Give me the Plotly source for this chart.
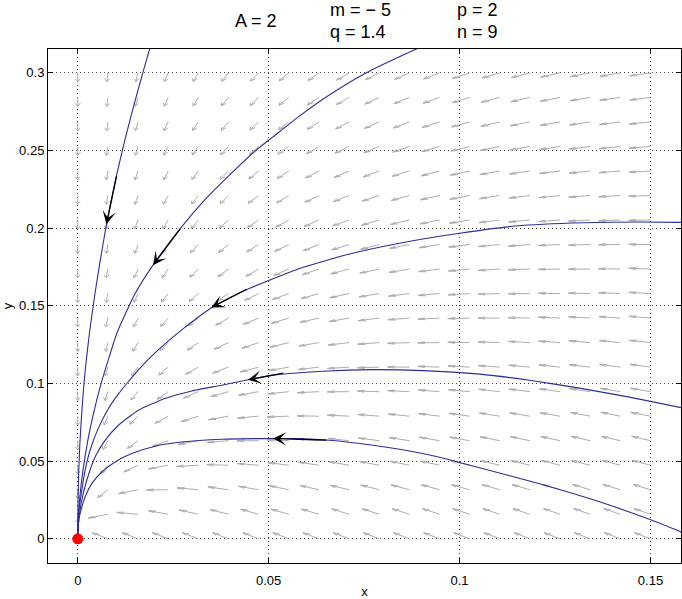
import numpy as np
import plotly.graph_objects as go

# quiver grid
x_grid = np.linspace(0, 0.15, 20)
y_grid = np.linspace(0, 0.3, 20)

# direction of the grey field arrows (degrees, data space), one row per y_grid value
field_angle = [
    [None, 137, 137, 137, 137, 137, 137, 137, 137, 137, 137, 137, 137, 137, 137, 137, 137, 137, 137, 137],
    [-90, -154, 168, 156, 151, 148, 146, 145, 144, 143, 142, 142, 141, 141, 141, 141, 140, 140, 140, 140],
    [-90, -118, -154, -179, 168, 161, 157, 153, 151, 150, 148, 147, 146, 146, 145, 145, 144, 144, 144, 143],
    [-90, -108, -131, -155, -172, 176, 169, 163, 160, 157, 155, 153, 152, 151, 150, 149, 148, 148, 147, 147],
    [-90, -103, -119, -138, -155, -169, -179, 174, 169, 165, 162, 159, 157, 156, 154, 153, 152, 151, 151, 150],
    [-90, -100, -113, -127, -142, -156, -167, -175, 178, 173, 169, 166, 163, 161, 159, 158, 157, 155, 154, 154],
    [-90, -98, -109, -120, -133, -145, -156, -165, -173, -179, 176, 173, 169, 167, 164, 163, 161, 160, 158, 157],
    [-90, -97, -106, -116, -126, -137, -147, -157, -164, -171, -176, 179, 175, 172, 170, 167, 165, 164, 162, 161],
    [-90, -96, -104, -112, -121, -131, -140, -149, -157, -164, -170, -175, -179, 178, 175, 172, 170, 168, 166, 165],
    [-90, -96, -102, -110, -118, -126, -135, -143, -151, -157, -163, -169, -173, -177, 180, 177, 174, 172, 170, 168],
    [-90, -95, -101, -108, -115, -122, -130, -138, -145, -152, -158, -163, -168, -172, -176, -179, 178, 176, 174, 172],
    [-90, -95, -100, -106, -113, -119, -126, -134, -140, -147, -153, -158, -163, -167, -171, -175, -178, 180, 178, 175],
    [-90, -94, -99, -105, -111, -117, -123, -130, -136, -143, -148, -154, -159, -163, -167, -170, -174, -176, -179, 179],
    [-90, -94, -99, -104, -109, -115, -121, -127, -133, -139, -144, -150, -154, -159, -163, -167, -170, -173, -175, -178],
    [-90, -94, -98, -103, -108, -113, -119, -124, -130, -136, -141, -146, -151, -155, -159, -163, -166, -169, -172, -175],
    [-90, -94, -98, -102, -107, -112, -117, -122, -128, -133, -138, -143, -147, -152, -156, -160, -163, -166, -169, -172],
    [-90, -94, -97, -102, -106, -111, -115, -120, -125, -130, -135, -140, -144, -149, -153, -156, -160, -163, -166, -169],
    [-90, -93, -97, -101, -105, -109, -114, -119, -123, -128, -133, -137, -142, -146, -150, -154, -157, -160, -163, -166],
    [-90, -93, -97, -100, -104, -109, -113, -117, -122, -126, -131, -135, -139, -143, -147, -151, -154, -158, -161, -163],
    [-90, -93, -96, -100, -104, -108, -112, -116, -120, -125, -129, -133, -137, -141, -145, -148, -152, -155, -158, -161],
]

# trajectories
c1_x = [0, 0.00008, 0.00026, 0.00052, 0.00092, 0.00149, 0.00209, 0.00314, 0.00445, 0.00576, 0.00751, 0.00969, 0.01230, 0.01448, 0.01623, 0.01798, 0.01885, 0.02016]
c1_y = [0, 0.0255, 0.0438, 0.0600, 0.0767, 0.0961, 0.1119, 0.1341, 0.1570, 0.1773, 0.2025, 0.2291, 0.2565, 0.2772, 0.2930, 0.3082, 0.3156, 0.3266]
c2_x = [0, 0.00013, 0.00052, 0.00131, 0.00262, 0.00393, 0.00610, 0.00785, 0.00961, 0.01055, 0.01492, 0.01971, 0.02715, 0.03325, 0.03979, 0.04678, 0.05113, 0.05812, 0.06597, 0.07558, 0.08822, 0.09476]
c2_y = [0, 0.0124, 0.0264, 0.0432, 0.0632, 0.0787, 0.0999, 0.1141, 0.1279, 0.1343, 0.1575, 0.1762, 0.2007, 0.2182, 0.2343, 0.2504, 0.2588, 0.2723, 0.2859, 0.3001, 0.3149, 0.3220]
c3_x = [0, 0.00005, 0.00018, 0.00079, 0.00175, 0.00322, 0.00542, 0.00804, 0.01065, 0.01283, 0.01589, 0.01982, 0.02374, 0.02715, 0.03542, 0.04503, 0.05812, 0.07120, 0.08429, 0.10000, 0.11484, 0.13228, 0.14712, 0.16021]
c3_y = [0, 0.0086, 0.0162, 0.0269, 0.0420, 0.0570, 0.0714, 0.0839, 0.0933, 0.1000, 0.1088, 0.1187, 0.1274, 0.1344, 0.1494, 0.1613, 0.1741, 0.1834, 0.1903, 0.1967, 0.2014, 0.2035, 0.2040, 0.2037]
c4_x = [0, 0.00008, 0.00034, 0.00105, 0.00236, 0.00453, 0.00715, 0.01065, 0.01589, 0.02285, 0.02984, 0.03770, 0.04458, 0.05113, 0.06421, 0.07730, 0.09039, 0.10524, 0.11832, 0.13141, 0.14450, 0.16021]
c4_y = [0, 0.0074, 0.0140, 0.0248, 0.0377, 0.0527, 0.0634, 0.0731, 0.0828, 0.0903, 0.0952, 0.0989, 0.1024, 0.1054, 0.1079, 0.1089, 0.1083, 0.1060, 0.1021, 0.0970, 0.0912, 0.0834]
c5_x = [0, 0.00008, 0.00026, 0.00060, 0.00191, 0.00366, 0.00628, 0.00976, 0.01414, 0.02024, 0.02723, 0.03770, 0.04764, 0.05812, 0.06597, 0.07730, 0.08429, 0.09476, 0.10524, 0.12094, 0.13665, 0.14974, 0.16021]
c5_y = [0, 0.0067, 0.0119, 0.0162, 0.0269, 0.0355, 0.0430, 0.0495, 0.0549, 0.0596, 0.0623, 0.0641, 0.0645, 0.0645, 0.0634, 0.0602, 0.0576, 0.0525, 0.0457, 0.0354, 0.0238, 0.0125, 0.0022]

# direction arrows on trajectories: tip and tail
arrow_tip_x = [0.00751, 0.01971, 0.03500, 0.04458, 0.05113]
arrow_tip_y = [0.2025, 0.1762, 0.1490, 0.1024, 0.0645]
arrow_tail_x = [0.01025, 0.02715, 0.04458, 0.05420, 0.06550]
arrow_tail_y = [0.2345, 0.2007, 0.1612, 0.1068, 0.0635]

x_ticks = [0, 0.05, 0.1, 0.15]
x_ticklabels = ["0", "0.05", "0.1", "0.15"]
y_ticks = [0, 0.05, 0.1, 0.15, 0.2, 0.25, 0.3]
y_ticklabels = ["0", "0.05", "0.1", "0.15", "0.2", "0.25", "0.3"]

fig = go.Figure()

# quiver (MATLAB-like arrows)
s = 0.0057
alpha, beta = 0.33, 0.33
qx, qy = [], []
for j, yv in enumerate(y_grid):
    for i, xv in enumerate(x_grid):
        a = field_angle[j][i]
        if a is None:
            continue
        u = s * np.cos(np.radians(a))
        v = s * np.sin(np.radians(a))
        qx += [xv, xv + u, None]
        qy += [yv, yv + v, None]
        qx += [xv + u - alpha * (u + beta * v), xv + u, xv + u - alpha * (u - beta * v), None]
        qy += [yv + v - alpha * (v - beta * u), yv + v, yv + v - alpha * (v + beta * u), None]
fig.add_trace(go.Scatter(x=qx, y=qy, mode="lines", line=dict(color="#adadad", width=1),
                         hoverinfo="skip"))

curve_color = "rgb(45,45,155)"
for cx, cy in [(c1_x, c1_y), (c2_x, c2_y), (c3_x, c3_y), (c4_x, c4_y), (c5_x, c5_y)]:
    fig.add_trace(go.Scatter(x=cx, y=cy, mode="lines",
                             line=dict(color=curve_color, width=1.1, shape="spline", smoothing=0.5)))

for tx, ty, ax_, ay_ in zip(arrow_tip_x, arrow_tip_y, arrow_tail_x, arrow_tail_y):
    fig.add_annotation(x=tx, y=ty, ax=ax_, ay=ay_, xref="x", yref="y", axref="x", ayref="y",
                       showarrow=True, arrowhead=3, arrowsize=1.7, arrowwidth=1.3,
                       arrowcolor="black", text="")

fig.add_trace(go.Scatter(x=[0], y=[0], mode="markers", marker=dict(color="red", size=11)))

font = "Liberation Sans, Arial, sans-serif"
fig.update_layout(
    width=682, height=599,
    margin=dict(l=48, r=1, t=49, b=36),
    plot_bgcolor="white", paper_bgcolor="white",
    showlegend=False,
    font=dict(family=font, size=13, color="black"),
)
axis_common = dict(showline=True, linecolor="black", linewidth=1, mirror="ticks",
                   ticks="inside", ticklen=5, tickcolor="black", tickwidth=1,
                   showgrid=True, gridcolor="#444444", griddash="1px,3px", gridwidth=1,
                   zeroline=False, automargin=False, tickfont=dict(family=font, size=13))
fig.update_xaxes(range=[-0.0078, 0.158], tickvals=x_ticks, ticktext=x_ticklabels,
                 ticklabelstandoff=5,
                 title=dict(text="x", font=dict(size=13), standoff=2), **axis_common)
fig.update_yaxes(range=[-0.0156, 0.3154], tickvals=y_ticks, ticktext=y_ticklabels,
                 title=dict(text="y", font=dict(size=13), standoff=6), **axis_common)


def ann(text, px, py, anchor="left"):
    fig.add_annotation(text=text, x=(px - 48) / 633, y=(563 - py) / 514, xref="paper", yref="paper",
                       xanchor=anchor, yanchor="middle", showarrow=False,
                       font=dict(family=font, size=18, color="black"))


ann("A = 2", 233, 21)
ann("m = \u2212 5", 328, 10)
ann("q = 1.4", 328, 32)
ann("p = 2", 455, 10)
ann("n = 9", 455, 32)

fig.write_html("out.html", config={"displayModeBar": False},
               post_script="document.body.style.margin='0';document.body.style.overflow='hidden';")
